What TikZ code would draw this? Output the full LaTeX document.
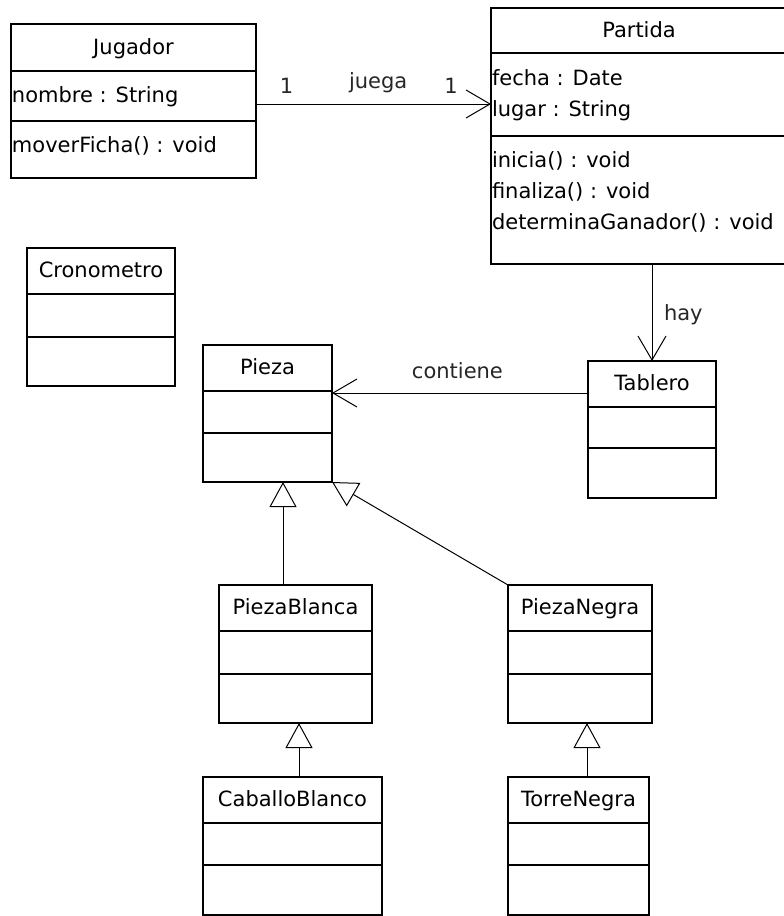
\documentclass[tikz,border=0pt]{standalone}
\usepackage{fontspec}
\setmainfont{DejaVu Sans}
\usetikzlibrary{positioning,arrows.meta}
\begin{document}
\begin{tikzpicture}[x=1pt, y=-1pt,
    every node/.style={outer sep=0pt, font=\fontsize{21}{31}\selectfont},
    cls/.style 2 args={draw, line width=1.8pt, inner sep=0pt, anchor=north west, minimum width=#1, minimum height=#2, text height=15.5pt, text depth=2pt},
    comp/.style 2 args={draw, line width=1.8pt, inner sep=0pt, minimum width=#1, minimum height=#2},
    txt/.style={anchor=north west, inner sep=0pt, align=left},
    lbl/.style={inner sep=0pt, text height=15.5pt, text depth=5pt, text=black!85},
    assoc/.style={line width=1pt, -{Straight Barb[length=24pt, width=28pt]}},
    inherit/.style={line width=1pt, -{Triangle[open, length=25pt, width=27pt]}}]

    \useasboundingbox (0,0) rectangle (784,916);

    \node[cls={245pt}{47pt}] (jug) at (11,24) {Jugador};
    \node[comp={245pt}{50pt}, below=0pt of jug] (jugA) {};
    \node[comp={245pt}{57pt}, below=0pt of jugA] (jugO) {};
    \node[txt] (jugAt) at ([xshift=1pt, yshift=-16pt]jugA.north west) {nombre : String};
    \node[txt] (jugOt) at ([xshift=1pt, yshift=-16pt]jugO.north west) {moverFicha() : void};

    \node[cls={296pt}{45pt}] (par) at (491,8) {Partida};
    \node[comp={296pt}{83pt}, below=0pt of par] (parA) {};
    \node[comp={296pt}{128pt}, below=0pt of parA] (parO) {};
    \node[txt] (parAt) at ([xshift=1pt, yshift=-17pt]parA.north west) {fecha : Date\\lugar : String};
    \node[txt] (parOt) at ([xshift=1pt, yshift=-16pt]parO.north west) {inicia() : void\\finaliza() : void\\determinaGanador() : void};

    \node[cls={148pt}{46pt}] (cro) at (27,248) {Cronometro};
    \node[comp={148pt}{43pt}, below=0pt of cro] (croA) {};
    \node[comp={148pt}{49pt}, below=0pt of croA] (croO) {};

    \node[cls={129pt}{46pt}] (pie) at (203,345) {Pieza};
    \node[comp={129pt}{42pt}, below=0pt of pie] (pieA) {};
    \node[comp={129pt}{49pt}, below=0pt of pieA] (pieO) {};

    \node[cls={128pt}{46pt}] (tab) at (588,361) {Tablero};
    \node[comp={128pt}{41pt}, below=0pt of tab] (tabA) {};
    \node[comp={128pt}{50pt}, below=0pt of tabA] (tabO) {};

    \node[cls={153pt}{46pt}] (pbl) at (219,585) {PiezaBlanca};
    \node[comp={153pt}{43pt}, below=0pt of pbl] (pblA) {};
    \node[comp={153pt}{49pt}, below=0pt of pblA] (pblO) {};

    \node[cls={144pt}{46pt}] (png) at (508,585) {PiezaNegra};
    \node[comp={144pt}{43pt}, below=0pt of png] (pngA) {};
    \node[comp={144pt}{49pt}, below=0pt of pngA] (pngO) {};

    \node[cls={179pt}{46pt}] (cab) at (203,777) {CaballoBlanco};
    \node[comp={179pt}{42pt}, below=0pt of cab] (cabA) {};
    \node[comp={179pt}{50pt}, below=0pt of cabA] (cabO) {};

    \node[cls={141pt}{46pt}] (tor) at (508,777) {TorreNegra};
    \node[comp={141pt}{42pt}, below=0pt of tor] (torA) {};
    \node[comp={141pt}{50pt}, below=0pt of torA] (torO) {};

    \draw[assoc] ([yshift=-8pt]jugA.east) -- ([yshift=-8pt]jugA.east -| parA.west)
        node[lbl, pos=.13, above=6pt] (m1) {1}
        node[lbl, pos=.52, above=11pt] (juega) {juega}
        node[lbl, pos=.83, above=6pt] (m2) {1};
    \draw[assoc] (parO.south -| tab.north) -- (tab.north)
        node[lbl, pos=.53, right=12pt] (hay) {hay};
    \draw[assoc] ([yshift=-9pt]tab.west) -- ([yshift=-9pt]tab.west -| pie.east)
        node[lbl, pos=.51, above=10pt] (cont) {contiene};

    \draw[inherit] ([xshift=-12.5pt]pbl.north) -- ([xshift=-12.5pt]pbl.north |- pieO.south);
    \draw[inherit] (png.north west) -- (pieO.south east);
    \draw[inherit] ([xshift=6.5pt]cab.north) -- ([xshift=6.5pt]cab.north |- pblO.south);
    \draw[inherit] ([xshift=8.5pt]tor.north) -- ([xshift=8.5pt]tor.north |- pngO.south);

\end{tikzpicture}
\end{document}
